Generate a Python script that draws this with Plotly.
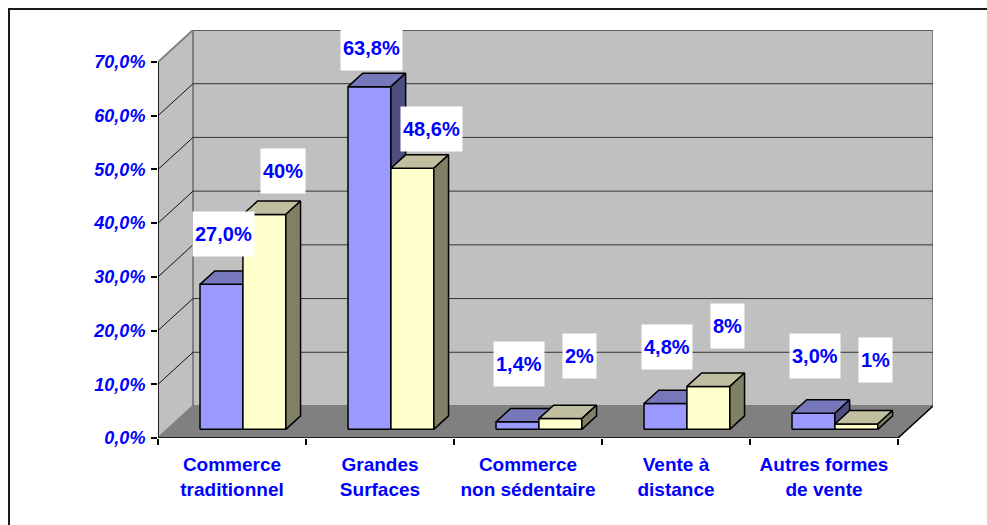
import plotly.graph_objects as go

# ---- data -------------------------------------------------------------
categories = [
    "Commerce<br>traditionnel",
    "Grandes<br>Surfaces",
    "Commerce<br>non sédentaire",
    "Vente à<br>distance",
    "Autres formes<br>de vente",
]
series_a = [27.0, 63.8, 1.4, 4.8, 3.0]
series_b = [40, 48.6, 2, 8, 1]
y_ticks = [0, 10, 20, 30, 40, 50, 60, 70]
y_tick_labels = [f"{v:.1f}".replace(".", ",") + "%" for v in y_ticks]

# ---- 3-D look: depth offsets in axis units --------------------------
N = len(categories)
YMAX = 70
DX = 0.2365          # depth shift along x (category units)
DY = 5.96            # depth shift along y (percent units)
GW = 0.58            # width of a bar pair inside one category
CENTER = 0.51        # pair centre inside a category
Z0, Z1 = 0.27, 0.69  # bar depth (fraction of floor depth)

FONT = "Liberation Sans, Arial, sans-serif"
BLUE_TXT = "#0000FF"

SERIES = [
    dict(name="Série 1", values=series_a, front="#9999FF", top="#7777BB",
         side="#4D4D80", fmt="fixed", xshift=2, lift0=58, lift_slope=0.3),
    dict(name="Série 2", values=series_b, front="#FFFFCC", top="#C0C0A0",
         side="#808066", fmt="general", xshift=19, lift0=64, lift_slope=0.5),
]


def proj(x, y, z):
    return x + z * DX, y + z * DY


def fmt_value(v, mode):
    if mode == "fixed":
        s = f"{v:.1f}"
    else:
        s = f"{v:g}"
    return s.replace(".", ",") + "%"


def path(pts):
    return "M " + " L ".join(f"{x},{y}" for x, y in pts) + " Z"


fig = go.Figure()

# ---- walls, floor and gridlines ------------------------------------
shapes = []
back_wall = [(DX, DY), (N + DX, DY), (N + DX, YMAX + DY), (DX, YMAX + DY)]
side_wall = [(0, 0), (DX, DY), (DX, YMAX + DY), (0, YMAX)]
floor = [(0, 0), (N, 0), (N + DX, DY), (DX, DY)]
shapes.append(dict(type="path", path=path(back_wall), fillcolor="#C0C0C0",
                   line=dict(color="#808080", width=2), layer="below"))
shapes.append(dict(type="path", path=path(side_wall), fillcolor="#C0C0C0",
                   line=dict(color="#808080", width=2), layer="below"))
for v in y_ticks[1:]:
    shapes.append(dict(type="line", x0=DX, y0=v + DY, x1=N + DX, y1=v + DY,
                       line=dict(color="#333333", width=1), layer="below"))
for v in y_ticks[1:-1]:
    shapes.append(dict(type="line", x0=0, y0=v, x1=DX, y1=v + DY,
                       line=dict(color="#111111", width=1), layer="below"))
shapes.append(dict(type="path", path=path(floor), fillcolor="#808080",
                   line=dict(color="#808080", width=1), layer="below"))
# front axis edges
shapes.append(dict(type="line", x0=0, y0=0, x1=0, y1=YMAX,
                   line=dict(color="#000000", width=1.5), layer="below"))
shapes.append(dict(type="line", x0=0, y0=0, x1=N, y1=0,
                   line=dict(color="#000000", width=1.5), layer="below"))
shapes.append(dict(type="line", x0=N, y0=0, x1=N + DX, y1=DY,
                   line=dict(color="#000000", width=1.5), layer="below"))

# ---- 3-D columns -----------------------------------------------------
annotations = []
half = GW / 2
for k in range(N):
    for s, ser in enumerate(SERIES):
        v = ser["values"][k]
        xl = k + CENTER - half + s * half
        xr = xl + half
        faces = [
            ([proj(xl, 0, Z0), proj(xr, 0, Z0), proj(xr, v, Z0), proj(xl, v, Z0)], ser["front"]),
            ([proj(xl, v, Z0), proj(xr, v, Z0), proj(xr, v, Z1), proj(xl, v, Z1)], ser["top"]),
            ([proj(xr, 0, Z0), proj(xr, 0, Z1), proj(xr, v, Z1), proj(xr, v, Z0)], ser["side"]),
        ]
        for pts, color in faces:
            xs = [p[0] for p in pts] + [pts[0][0]]
            ys = [p[1] for p in pts] + [pts[0][1]]
            fig.add_trace(go.Scatter(
                x=xs, y=ys, mode="lines", fill="toself", fillcolor=color,
                line=dict(color="#000000", width=1.5), name=ser["name"],
                hoverinfo="skip", showlegend=False))
        ax, ay = proj((xl + xr) / 2, v, Z0)
        annotations.append(dict(
            x=ax, y=ay, xref="x", yref="y", showarrow=False,
            text=fmt_value(v, ser["fmt"]),
            xshift=ser["xshift"], yshift=ser["lift0"] - ser["lift_slope"] * v,
            font=dict(family=FONT, size=20, color=BLUE_TXT, weight="bold"),
            bgcolor="#FFFFFF", borderpad=2, height=40, valign="middle"))

# ---- outer frame -----------------------------------------------------
W, H = 987, 525
ML, MR, MT, MB = 158, 54, 30, 87
pw, ph = W - ML - MR, H - MT - MB
shapes.append(dict(type="rect", xref="paper", yref="paper",
                   x0=(9 - ML) / pw, x1=(W + 20 - ML) / pw,
                   y0=-(MB + 20) / ph, y1=(H - MB - 9) / ph,
                   line=dict(color="#1A1A1A", width=2), layer="below"))

fig.update_layout(
    width=W, height=H,
    margin=dict(l=ML, r=MR, t=MT, b=MB, pad=0),
    paper_bgcolor="#FFFFFF", plot_bgcolor="#FFFFFF",
    showlegend=False,
    shapes=shapes, annotations=annotations,
    xaxis=dict(
        range=[0, N + DX], showgrid=False, zeroline=False, showline=False,
        tickmode="array", tickvals=[k + 0.5 for k in range(N)],
        ticktext=categories, ticks="", ticklabelstandoff=13,
        tickfont=dict(family=FONT, size=19, color=BLUE_TXT, weight="bold"),
        minor=dict(tickmode="array", tickvals=list(range(N + 1)),
                   ticks="outside", ticklen=6, tickwidth=1.5,
                   tickcolor="#000000", showgrid=False),
        fixedrange=True,
    ),
    yaxis=dict(
        range=[0, YMAX + DY], showgrid=False, zeroline=False, showline=False,
        tickmode="array", tickvals=y_ticks, ticktext=y_tick_labels,
        ticks="outside", ticklen=6, tickwidth=1.5, tickcolor="#000000",
        ticklabelstandoff=2,
        tickfont=dict(family=FONT, size=18, color=BLUE_TXT, weight="bold",
                      style="italic"),
        fixedrange=True,
    ),
)

fig.write_html("out.html")
